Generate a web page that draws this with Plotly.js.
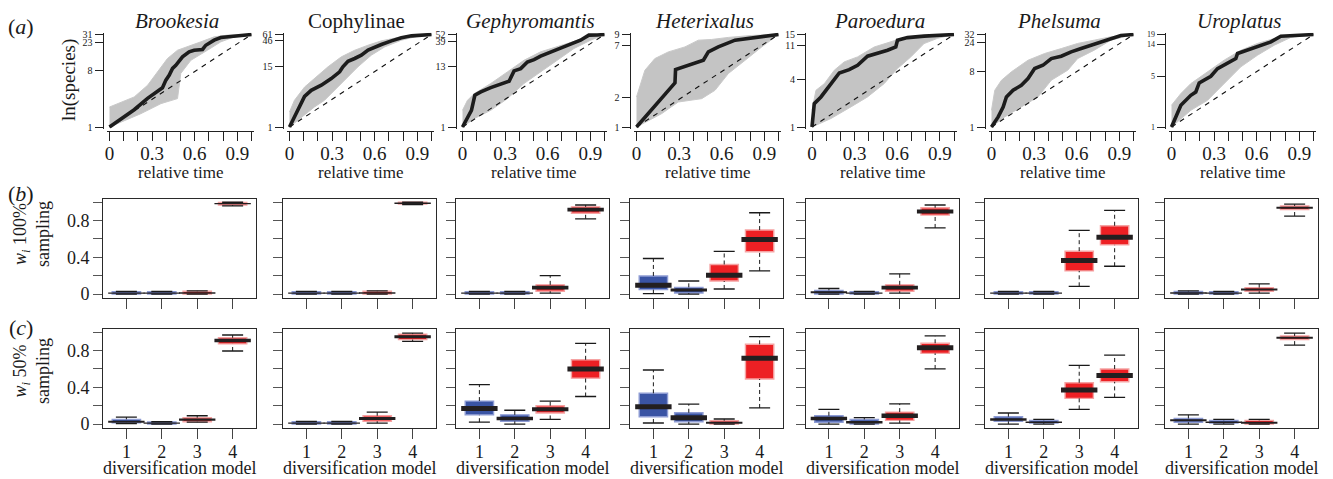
<!DOCTYPE html>
<html><head><meta charset="utf-8">
<script src="https://cdn.plot.ly/plotly-3.0.1.min.js"></script>
<style>html,body{margin:0;padding:0;background:#fff}#chart{width:1333px;height:479px}</style>
</head><body><div id="chart"></div>
<script>
// ---------- DATA ----------
const taxa = ['Brookesia','Cophylinae','Gephyromantis','Heterixalus','Paroedura','Phelsuma','Uroplatus'];
const italicTitle = [true,false,true,true,true,true,true];
const richness = [31,61,52,9,15,32,19];
const lttTicks = [[1,8,23,31],[1,15,46,61],[1,13,39,52],[1,2,7,9],[1,4,11,15],[1,8,24,32],[1,5,14,19]];
const timeTicks = [0,0.1,0.2,0.3,0.4,0.5,0.6,0.7,0.8,0.9,1];
const timeTickText = ['0','','','0.3','','','0.6','','','0.9',''];

// observed lineage-through-time curves (relative time, number of species)
const obsT = [
  [0,0.174,0.268,0.338,0.373,0.397,0.42,0.444,0.467,0.514,0.561,0.596,0.655,0.678,0.737,0.784,0.878,1],
  [0,0.059,0.106,0.153,0.224,0.294,0.353,0.376,0.412,0.459,0.506,0.553,0.6,0.647,0.718,0.788,0.859,0.929,1],
  [0,0.035,0.063,0.087,0.129,0.199,0.269,0.328,0.363,0.41,0.457,0.504,0.55,0.621,0.691,0.761,0.831,0.89,0.948,1],
  [0,0.106,0.2,0.271,0.275,0.365,0.471,0.506,0.576,0.694,0.835,1],
  [0,0.016,0.063,0.133,0.192,0.262,0.321,0.391,0.461,0.532,0.59,0.602,0.672,0.789,1],
  [0,0.047,0.082,0.105,0.152,0.21,0.257,0.304,0.362,0.421,0.491,0.561,0.631,0.701,0.771,0.841,0.911,1],
  [0,0.031,0.066,0.136,0.171,0.195,0.23,0.277,0.324,0.394,0.453,0.465,0.535,0.606,0.7,0.77,0.887,1]
];
const obsN = [
  [1,1.9,2.9,3.7,4.3,5.7,6.8,8.8,9.9,13.5,16.3,17.3,17.8,20.8,25.1,27.7,29.2,31],
  [1,2.1,3.9,5.1,6.4,8.6,11.6,14.5,18.6,21,24.3,30.4,35.2,39.1,46,52.6,57.5,60,61],
  [1,1.43,2.04,3.88,4.47,5.38,6.2,7.06,11,12.1,16.1,17.8,20.6,24.8,29.8,34.4,40.8,50.6,51,52],
  [1,1.49,2.12,2.85,3.91,4.34,4.88,5.96,6.7,7.86,8.38,9],
  [1,1.98,2.41,3.56,4.87,5.37,6.1,7.94,8.6,9.47,10.4,12.7,13.7,14.3,15],
  [1,1.46,2.12,3.08,3.96,4.78,6.14,8.93,10.1,13,14.2,16.7,18.9,21.4,24.3,27.5,30.9,32],
  [1,1.38,2.0,2.74,3.05,4.07,4.43,5.03,6.42,7.53,8.84,10.4,11.5,12.8,15,18,18.6,19]
];
// upper and lower edges of the simulated curves
const simUpT = [
  [0,0.174,0.268,0.338,0.408,0.479,0.549,0.643,0.737,0.831,1],
  [0,0.035,0.106,0.176,0.271,0.365,0.459,0.553,0.647,0.788,1],
  [0,0.035,0.082,0.199,0.316,0.433,0.55,0.667,0.785,0.902,1],
  [0,0.059,0.129,0.224,0.341,0.435,0.529,0.647,0.812,1],
  [0,0.028,0.087,0.157,0.227,0.321,0.438,0.555,0.649,0.789,1],
  [0,0.023,0.07,0.14,0.257,0.374,0.491,0.607,0.724,0.841,1],
  [0,0.066,0.136,0.254,0.371,0.488,0.606,0.723,0.84,1]
];
const simUpN = [
  [2.1,3.05,4.7,7.7,12.7,17.3,19.6,23.6,28.4,30.3,31],
  [1.95,3.28,5.9,8.6,14.5,22.6,30.3,37.9,46,55,61],
  [2.04,3.13,4.16,6.4,10.5,17.3,24.8,30.7,38,48.4,52],
  [2.04,3.85,5.08,5.95,6.7,7.86,8.0,8.4,8.8,9],
  [1.63,2.93,3.56,5.27,6.73,7.79,10.4,12.1,13.7,14.3,15],
  [1.87,3.96,5.76,7.9,12.2,15.7,18.9,22.9,25.9,29.4,32],
  [2.0,2.9,3.98,5.78,8.4,11.5,14.3,16.7,18.6,19]
];
const simLoT = [
  [0,0.221,0.362,0.479,0.502,0.573,0.69,0.784,0.878,1],
  [0,0.106,0.176,0.247,0.318,0.388,0.482,0.576,0.671,0.788,0.906,1],
  [0,0.082,0.199,0.316,0.433,0.55,0.667,0.785,0.902,1],
  [0,0.176,0.294,0.459,0.553,0.647,0.765,0.882,1],
  [0,0.133,0.274,0.391,0.508,0.602,0.696,0.789,0.883,1],
  [0,0.093,0.21,0.327,0.421,0.537,0.607,0.724,0.841,1],
  [0,0.136,0.254,0.371,0.488,0.606,0.723,0.84,1]
];
const simLoN = [
  [1,1.64,2.38,2.87,7.3,11.9,17.3,23.6,28.4,31],
  [1,1.68,2.44,3.28,5.1,8.0,14.5,24.3,35.2,47.4,56.7,61],
  [1,1.43,2.04,3.36,6.4,10.5,17.3,28.6,40.8,52],
  [1,1.37,1.81,1.96,2.39,3.56,4.88,6.7,9],
  [1,1.28,1.8,2.41,3.56,5.53,7.79,11.5,13.4,15],
  [1,1.46,2.12,3.08,5.76,8.4,13,17.8,25.9,32],
  [1,1.7,2.34,3.98,6.78,9.83,13.5,17.3,19]
];

// Akaike weights, models 1-4, per taxon: 100% sampling
const models = [1,2,3,4];
const w100Low  = [[0,0,0,0.96],[0,0,0,0.975],[0,0,0.01,0.82],[0.004,0,0.055,0.252],[0,0,0.01,0.72],[0,0,0.084,0.303],[0,0,0.01,0.85]];
const w100Q1   = [[0,0,0,0.97],[0,0,0,0.98],[0,0,0.03,0.88],[0.048,0.011,0.142,0.46],[0,0,0.03,0.86],[0,0,0.252,0.536],[0,0,0.03,0.92]];
const w100Med  = [[0.01,0.01,0.012,0.985],[0.01,0.01,0.012,0.99],[0.01,0.01,0.07,0.92],[0.095,0.044,0.205,0.595],[0.02,0.01,0.07,0.9],[0.01,0.01,0.365,0.62],[0.012,0.01,0.05,0.94]];
const w100Q3   = [[0.025,0.025,0.03,0.997],[0.025,0.025,0.03,1.0],[0.025,0.025,0.1,0.95],[0.197,0.073,0.322,0.697],[0.04,0.025,0.1,0.94],[0.025,0.025,0.467,0.744],[0.028,0.025,0.07,0.96]];
const w100High = [[0.03,0.03,0.035,1.0],[0.03,0.03,0.035,1.0],[0.03,0.03,0.2,0.97],[0.387,0.142,0.464,0.886],[0.06,0.03,0.22,0.97],[0.03,0.03,0.693,0.912],[0.035,0.03,0.11,0.98]];
// 50% sampling
const w50Low  = [[0.005,0,0.02,0.796],[0,0,0.01,0.9],[0.02,0,0.05,0.3],[0.011,0,0,0.175],[0,0,0.01,0.6],[0,0,0.16,0.29],[0,0,0,0.86]];
const w50Q1   = [[0.013,0,0.025,0.873],[0,0,0.03,0.92],[0.1,0.03,0.12,0.5],[0.08,0.025,0,0.491],[0.02,0,0.04,0.77],[0.03,0.01,0.28,0.46],[0.02,0.01,0,0.92]];
const w50Med  = [[0.025,0.01,0.047,0.91],[0.01,0.01,0.06,0.95],[0.17,0.06,0.16,0.6],[0.189,0.069,0.014,0.717],[0.06,0.02,0.09,0.83],[0.05,0.02,0.37,0.53],[0.04,0.02,0.015,0.94]];
const w50Q3   = [[0.051,0.022,0.069,0.94],[0.025,0.025,0.09,0.98],[0.25,0.1,0.2,0.7],[0.335,0.123,0.036,0.869],[0.09,0.05,0.13,0.88],[0.08,0.04,0.45,0.6],[0.06,0.04,0.04,0.96]];
const w50High = [[0.076,0.025,0.09,0.97],[0.03,0.03,0.13,0.99],[0.43,0.15,0.25,0.88],[0.589,0.218,0.055,0.952],[0.16,0.07,0.22,0.96],[0.12,0.05,0.64,0.75],[0.1,0.05,0.05,0.99]];
const weightTicks = [0,0.2,0.4,0.6,0.8,1];
const weightTickText = ['0','','0.4','','0.8',''];

// ---------- LAYOUT GEOMETRY ----------
const W = 1333, H = 479;
const FONT = 'Liberation Serif, Times New Roman, serif';
const colLeft = [103,283,456,630,805.5,985,1165];
const FW = 153;
const PX_PER_UNIT = 91.7;
const fx = v => v / W;
const fy = v => 1 - v / H;
const boxFill = ['#3a54a4','#3a54a4','#ed2024','#ed2024'];
const boxEdge = ['#8e9cd4','#8e9cd4','#f5a3a3','#f5a3a3'];

const traces = [];
const layout = {
  width: W, height: H, margin: {l:0,r:0,t:0,b:0},
  paper_bgcolor: '#fff', plot_bgcolor: 'rgba(0,0,0,0)',
  showlegend: false, font: {family: FONT, color: '#1a1a1a'},
  annotations: []
};

taxa.forEach((name, c) => {
  const L = colLeft[c];
  const N = richness[c];
  const id = c + 1;
  const xa = 'x' + id, ya = 'y' + id;
  // ---- row (a) ----
  traces.push({x: simUpT[c], y: simUpN[c], xaxis: xa, yaxis: ya, mode: 'lines',
    line: {color: '#c9c9c9', width: 1}, hoverinfo: 'skip'});
  traces.push({x: simLoT[c], y: simLoN[c], xaxis: xa, yaxis: ya, mode: 'lines',
    line: {color: '#c9c9c9', width: 1}, fill: 'tonexty', fillcolor: '#c4c4c4', hoverinfo: 'skip'});
  traces.push({x: [0, 1], y: [1, N], xaxis: xa, yaxis: ya, mode: 'lines',
    line: {color: '#111', width: 1.1, dash: '5px,5px'}, hoverinfo: 'skip'});
  traces.push({x: obsT[c], y: obsN[c], xaxis: xa, yaxis: ya, mode: 'lines',
    line: {color: '#1c1c1c', width: 3.6}, hoverinfo: 'skip'});
  const lg = Math.log10(N);
  layout['xaxis' + id] = {
    domain: [fx(L + 3.66), fx(L + 151.34)], range: [-0.02, 1.02],
    anchor: 'free', position: fy(131),
    showline: true, linecolor: '#222', linewidth: 1,
    ticks: 'outside', ticklen: 9, tickwidth: 1, tickcolor: '#222',
    tickmode: 'array', tickvals: timeTicks, ticktext: timeTickText, tickangle: 0,
    ticklabelstandoff: -4,
    tickfont: {family: FONT, size: 19, color: '#1a1a1a'},
    showgrid: false, zeroline: false, fixedrange: true
  };
  layout['yaxis' + id] = {
    type: 'log', domain: [fy(128.85), fy(32.65)], range: [-0.02 * lg, 1.02 * lg],
    anchor: 'free', position: fx(L - 0.5),
    showline: true, linecolor: '#222', linewidth: 1,
    ticks: 'outside', ticklen: 8, tickwidth: 1, tickcolor: '#222',
    tickmode: 'array', tickvals: lttTicks[c], ticktext: lttTicks[c].map(String), tickangle: 0,
    tickfont: {family: FONT, size: c === 6 ? 8 : 10, color: '#1a1a1a'},
    showgrid: false, zeroline: false, fixedrange: true
  };
  layout.annotations.push({
    text: italicTitle[c] ? '<i>' + name + '</i>' : name,
    xref: 'paper', yref: 'paper', x: fx(L + 74), y: fy(21),
    xanchor: 'center', yanchor: 'middle', showarrow: false,
    font: {family: FONT, size: 21, color: '#1a1a1a'}
  });
  layout.annotations.push({
    text: 'relative time', xref: 'paper', yref: 'paper', x: fx(L + 77), y: fy(172),
    xanchor: 'center', yanchor: 'middle', showarrow: false,
    font: {family: FONT, size: 17, color: '#1a1a1a'}
  });

  // ---- rows (b) and (c) ----
  const rows = [
    {low: w100Low, q1: w100Q1, med: w100Med, q3: w100Q3, high: w100High, top: 198.6, bottom: 297.7},
    {low: w50Low, q1: w50Q1, med: w50Med, q3: w50Q3, high: w50High, top: 328.6, bottom: 427.7}
  ];
  rows.forEach((R, r) => {
    const bid = 7 * (r + 1) + c + 1;
    const bx = 'x' + bid, by = 'y' + bid;
    const lo = R.low[c], q1 = R.q1[c], md = R.med[c], q3 = R.q3[c], hi = R.high[c];
    // whiskers (dashed)
    const wx = [], wy = [];
    models.forEach((m, k) => {
      wx.push(m, m, null, m, m, null);
      wy.push(lo[k], q1[k], null, q3[k], hi[k], null);
    });
    traces.push({x: wx, y: wy, xaxis: bx, yaxis: by, mode: 'lines',
      line: {color: '#1a1a1a', width: 1, dash: '4px,3px'}, hoverinfo: 'skip'});
    // whisker caps
    traces.push({x: models.concat(models), y: lo.concat(hi), xaxis: bx, yaxis: by, mode: 'markers',
      marker: {symbol: 'line-ew', size: 15, color: '#1a1a1a', line: {color: '#1a1a1a', width: 1.3}}, hoverinfo: 'skip'});
    // boxes
    traces.push({type: 'bar', x: models, base: q1, y: q3.map((v, k) => v - q1[k]), width: 0.8,
      xaxis: bx, yaxis: by,
      marker: {color: boxFill, line: {color: boxEdge, width: 1.4}}, hoverinfo: 'skip'});
    // medians: band thickness limited by the box height so thin boxes keep their colour
    const medW = q3.map((v, k) => Math.max(1.4, Math.min(5, (v - q1[k]) * PX_PER_UNIT * 0.55)));
    traces.push({x: models, y: md, xaxis: bx, yaxis: by, mode: 'markers',
      marker: {symbol: 'line-ew', size: 26, color: '#231f20', line: {color: '#231f20', width: medW}}, hoverinfo: 'skip'});

    layout['xaxis' + bid] = {
      domain: [fx(L), fx(L + FW)], range: [0.34, 4.66], anchor: by,
      showline: true, mirror: true, linecolor: '#2a2a2a', linewidth: 1,
      ticks: 'outside', ticklen: 10, tickwidth: 1, tickcolor: '#444',
      tickmode: 'array', tickvals: models, showticklabels: r === 1, tickangle: 0,
      ticklabelstandoff: -2,
      tickfont: {family: FONT, size: 18, color: '#1a1a1a'},
      showgrid: false, zeroline: false, fixedrange: true
    };
    layout['yaxis' + bid] = {
      domain: [fy(R.bottom), fy(R.top)], range: [-0.04, 1.04], anchor: bx,
      showline: true, mirror: true, linecolor: '#2a2a2a', linewidth: 1,
      ticks: 'outside', ticklen: 9, tickwidth: 1, tickcolor: '#555',
      tickmode: 'array', tickvals: weightTicks, ticktext: weightTickText, tickangle: 0,
      showticklabels: c === 0,
      tickfont: {family: FONT, size: 18, color: '#1a1a1a'},
      showgrid: false, zeroline: false, fixedrange: true
    };
    if (r === 1) {
      layout.annotations.push({
        text: 'diversification model', xref: 'paper', yref: 'paper', x: fx(L + 76.5), y: fy(468),
        xanchor: 'center', yanchor: 'middle', showarrow: false,
        font: {family: FONT, size: 18, color: '#1a1a1a'}
      });
    }
  });
});

// panel letters and row titles
const panelLabels = [['(<i>a</i>)', 26], ['(<i>b</i>)', 193], ['(<i>c</i>)', 327]];
panelLabels.forEach(p => layout.annotations.push({
  text: p[0], xref: 'paper', yref: 'paper', x: fx(21), y: fy(p[1]),
  xanchor: 'center', yanchor: 'middle', showarrow: false,
  font: {family: FONT, size: 22, color: '#1a1a1a'}
}));
layout.annotations.push({
  text: 'ln(species)', xref: 'paper', yref: 'paper', x: fx(69), y: fy(80),
  xanchor: 'center', yanchor: 'middle', textangle: -90, showarrow: false,
  font: {family: FONT, size: 19, color: '#1a1a1a'}
});
[['<i>w</i><sub><i>i</i></sub> 100%<br>sampling', 234], ['<i>w</i><sub><i>i</i></sub> 50%<br>sampling', 371]].forEach(t =>
  layout.annotations.push({
    text: t[0], xref: 'paper', yref: 'paper', x: fx(31), y: fy(t[1]),
    xanchor: 'center', yanchor: 'middle', textangle: -90, showarrow: false,
    font: {family: FONT, size: 18, color: '#1a1a1a'}
  }));

Plotly.newPlot('chart', traces, layout, {staticPlot: true, displayModeBar: false});
</script></body></html>
